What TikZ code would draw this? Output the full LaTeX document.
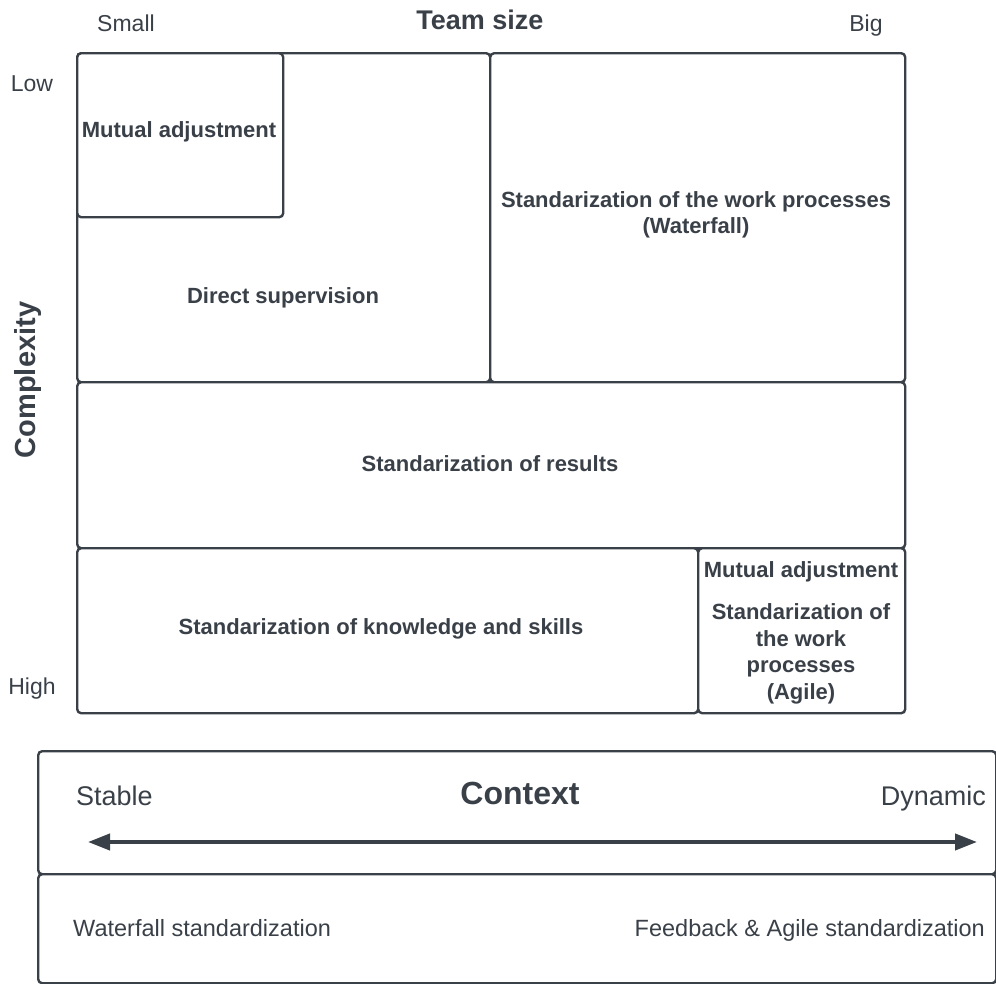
\documentclass[tikz,border=0pt]{standalone}
\usepackage{fontspec}
\setmainfont{Liberation Sans}
\usetikzlibrary{arrows.meta}
\definecolor{ink}{HTML}{3A4048}
\begin{document}
\begin{tikzpicture}[x=1pt,y=-1pt,
  frame/.style={draw=ink,line width=2.4pt,rounded corners=4pt,fill=white,inner sep=0pt,anchor=north west},
  btxt/.style={text=ink,font=\fontsize{22}{26.5}\selectfont\bfseries,align=center,inner sep=0pt},
  rtxt/.style={text=ink,font=\fontsize{23}{27}\selectfont,inner sep=0pt},
  ltxt/.style={text=ink,font=\fontsize{23.5}{28}\selectfont,inner sep=0pt},
  ctxt/.style={text=ink,font=\fontsize{27}{32}\selectfont,inner sep=0pt},
  arr/.style={draw=ink,line width=4pt,{Triangle[length=22pt,width=16pt]}-{Triangle[length=22pt,width=16pt]}}]
\useasboundingbox (0,0) rectangle (996,983);
% axis labels
\node[rtxt,anchor=base] (small) at (126,31) {Small};
\node[text=ink,font=\fontsize{27}{32}\selectfont\bfseries,inner sep=0pt,anchor=base] (team) at (480,29.5) {Team size};
\node[rtxt,anchor=base] (big) at (866,31) {Big};
\node[rtxt,anchor=base] (low) at (32,91.5) {Low};
\node[rtxt,anchor=base] (high) at (32,694) {High};
\node[text=ink,font=\fontsize{29}{34}\selectfont\bfseries,inner sep=0pt,rotate=90] (cplx) at (28,380) {Complexity};
% boxes
\node[frame,minimum width=413pt,minimum height=329pt] (ds) at (76,52) {};
\node[frame,minimum width=206pt,minimum height=164pt] (ma) at (76,52) {};
\node[frame,minimum width=415pt,minimum height=329pt] (wf) at (489,52) {};
\node[frame,minimum width=828pt,minimum height=166pt] (res) at (76,381) {};
\node[frame,minimum width=621pt,minimum height=165pt] (ks) at (76,547) {};
\node[frame,minimum width=207pt,minimum height=165pt] (ag) at (697,547) {};
% box texts
\node[btxt] (maT) at (179,132) {Mutual adjustment};
\node[btxt] (dsT) at (283,298) {Direct supervision};
\node[btxt] (wfT) at (696,215) {Standarization of the work processes\\(Waterfall)};
\node[btxt] (resT) at (490,464) {Standarization of results};
\node[btxt] (ksT) at (381,629) {Standarization of knowledge and skills};
\node[btxt] (agT1) at (801,572) {Mutual adjustment};
\node[btxt] (agT2) at (801,654) {Standarization of\\the work\\processes\\(Agile)};
% context
\node[frame,minimum width=958pt,minimum height=123pt] (ctx) at (37,750) {};
\node[frame,minimum width=958pt,minimum height=109pt] (ctx2) at (37,873) {};
\node[ctxt,anchor=base west] (stable) at (76,805) {Stable};
\node[text=ink,font=\fontsize{32}{38}\selectfont\bfseries,inner sep=0pt,anchor=base] (context) at (520,804.5) {Context};
\node[ctxt,anchor=base east] (dyn) at (986,805) {Dynamic};
\coordinate (aL) at (88,842);
\coordinate (aR) at (977,842);
\draw[arr] (aL) -- (aR);
\node[ltxt,anchor=base west] (wfs) at (73,936) {Waterfall standardization};
\node[ltxt,anchor=base east] (fas) at (985,936) {Feedback \& Agile standardization};
\end{tikzpicture}
\end{document}
